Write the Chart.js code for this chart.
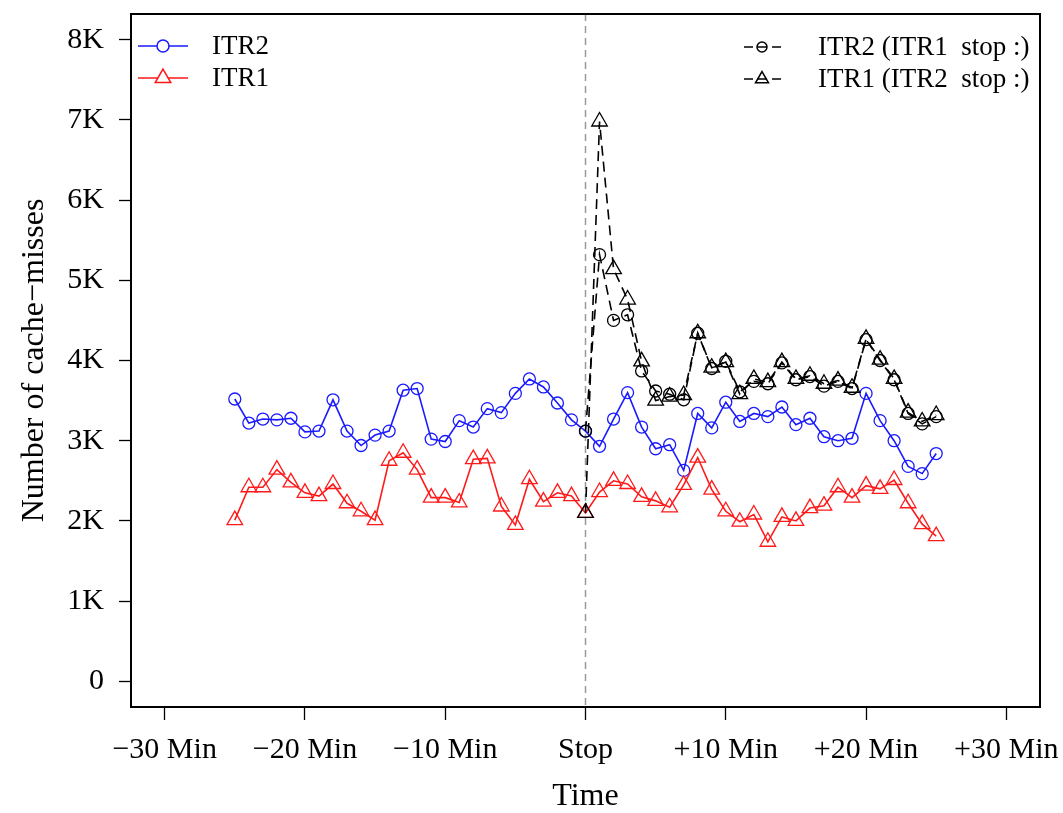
<!DOCTYPE html>
<html>
<head>
<meta charset="utf-8">
<script src="https://cdn.jsdelivr.net/npm/chart.js@4.4.1/dist/chart.umd.min.js"></script>
<style>
  body { margin: 0; background: #fff; }
</style>
</head>
<body>
<canvas id="misses" width="1063" height="813"></canvas>
<script>
// minutes relative to the stop
var minutes = [-25, -24, -23, -22, -21, -20, -19, -18, -17, -16, -15, -14, -13, -12, -11, -10, -9, -8, -7, -6, -5, -4, -3, -2, -1,
    0, 1, 2, 3, 4, 5, 6, 7, 8, 9, 10, 11, 12, 13, 14, 15, 16, 17, 18, 19, 20, 21, 22, 23, 24, 25];
var afterStop = [0, 1, 2, 3, 4, 5, 6, 7, 8, 9, 10, 11, 12, 13, 14, 15, 16, 17, 18, 19, 20, 21, 22, 23, 24, 25];

var itr2 = [3520, 3220, 3270, 3260, 3280, 3110, 3120, 3510, 3120, 2940, 3070, 3120, 3630, 3650, 3020, 2990, 3250, 3170, 3400, 3350, 3590, 3770, 3670, 3470, 3260,
    3120, 2930, 3270, 3600, 3170, 2900, 2950, 2630, 3340, 3160, 3480, 3240, 3340, 3300, 3420, 3200, 3280, 3050, 3000, 3030, 3590, 3250, 3000, 2680, 2590, 2840];
var itr1 = [2010, 2420, 2420, 2640, 2480, 2350, 2310, 2460, 2220, 2120, 2010, 2750, 2850, 2640, 2290, 2290, 2230, 2770, 2780, 2180, 1950, 2520, 2240, 2350, 2310,
    2100, 2360, 2500, 2460, 2300, 2250, 2170, 2450, 2790, 2390, 2120, 1990, 2080, 1740, 2050, 2000, 2160, 2190, 2420, 2290, 2440, 2400, 2510, 2220, 1960, 1810];
var itr2Alone = [3120, 5320, 4500, 4570, 3870, 3620, 3580, 3510, 4340, 3900, 3990, 3610, 3740, 3710, 3970, 3760, 3800, 3680, 3740, 3650, 4260, 4000, 3760, 3340, 3210, 3300];
var itr1Alone = [2100, 6980, 5140, 4760, 3990, 3500, 3550, 3570, 4340, 3910, 3980, 3580, 3770, 3730, 3980, 3770, 3810, 3710, 3750, 3660, 4270, 4010, 3770, 3350, 3240, 3320];

var xTicks = [-30, -20, -10, 0, 10, 20, 30];
var yTicks = [0, 1000, 2000, 3000, 4000, 5000, 6000, 7000, 8000];

function pairs(xs, ys) {
    return xs.map((x, i) => ({ x: x, y: ys[i] }));
}

var serif = "'Liberation Serif', 'Times New Roman', serif";
Chart.defaults.font.family = serif;
Chart.defaults.color = "#000";

// box, stop line and the two legends
var frame = {
    id: "frame",
    beforeDatasetsDraw(chart) {
        var ctx = chart.ctx, a = chart.chartArea;
        var x0 = chart.scales.x.getPixelForValue(0);
        ctx.save();
        ctx.strokeStyle = "#999";
        ctx.lineWidth = 1.5;
        ctx.setLineDash([7, 5]);
        ctx.beginPath();
        ctx.moveTo(x0, a.top);
        ctx.lineTo(x0, a.bottom);
        ctx.stroke();
        ctx.restore();
    },
    afterDraw(chart) {
        var ctx = chart.ctx, a = chart.chartArea;
        ctx.save();
        ctx.strokeStyle = "#000";
        ctx.lineWidth = 2;
        ctx.strokeRect(a.left, a.top, a.right - a.left, a.bottom - a.top);

        ctx.font = "27px " + serif;
        ctx.textBaseline = "middle";
        ctx.textAlign = "left";
        var ds = chart.data.datasets;

        // left legend
        [[ds[2], 46], [ds[3], 78]].forEach(([d, y]) => {
            ctx.strokeStyle = d.borderColor;
            ctx.lineWidth = 1.5;
            ctx.setLineDash([]);
            ctx.beginPath();
            ctx.moveTo(138, y);
            ctx.lineTo(188, y);
            ctx.stroke();
            ctx.fillStyle = "#fff";
            Chart.helpers.drawPoint(ctx, { pointStyle: d.pointStyle, radius: d.pointRadius, borderWidth: 1.5 }, 163, y);
            ctx.fillStyle = "#000";
            ctx.fillText(d.label, 212, y + 1);
        });

        // right legend
        [[ds[0], 47, 5], [ds[1], 79, 7.5]].forEach(([d, y, r]) => {
            ctx.strokeStyle = "#000";
            ctx.lineWidth = 1.5;
            ctx.setLineDash([]);
            ctx.beginPath();
            ctx.moveTo(744, y);
            ctx.lineTo(753, y);
            ctx.moveTo(772, y);
            ctx.lineTo(781, y);
            ctx.moveTo(757, y);
            ctx.lineTo(767, y);
            ctx.stroke();
            ctx.fillStyle = "rgba(0,0,0,0)";
            Chart.helpers.drawPoint(ctx, { pointStyle: d.pointStyle, radius: r, borderWidth: 1.3 }, 762, y);
            ctx.fillStyle = "#000";
            ctx.fillText(d.label, 818, y + 1);
        });
        ctx.restore();
    },
};

var ctx = document.getElementById("misses").getContext("2d");
var myChart = new Chart(ctx, {
    type: "line",
    data: {
        datasets: [
            {
                label: "ITR2 (ITR1  stop :)",
                data: pairs(afterStop, itr2Alone),
                borderColor: "#000",
                borderWidth: 1.6,
                borderDash: [10, 6],
                pointStyle: "circle",
                pointRadius: 6,
                pointBorderWidth: 1.3,
                pointBackgroundColor: "rgba(0,0,0,0)",
                order: 1,
            },
            {
                label: "ITR1 (ITR2  stop :)",
                data: pairs(afterStop, itr1Alone),
                borderColor: "#000",
                borderWidth: 1.6,
                borderDash: [10, 6],
                pointStyle: "triangle",
                pointRadius: 9,
                pointBorderWidth: 1.3,
                pointBackgroundColor: "rgba(0,0,0,0)",
                order: 0,
            },
            {
                label: "ITR2",
                data: pairs(minutes, itr2),
                borderColor: "#1a1aff",
                borderWidth: 1.6,
                pointStyle: "circle",
                pointRadius: 6,
                pointBorderWidth: 1.3,
                pointBackgroundColor: "rgba(0,0,0,0)",
                order: 3,
            },
            {
                label: "ITR1",
                data: pairs(minutes, itr1),
                borderColor: "#ff1a1a",
                borderWidth: 1.6,
                pointStyle: "triangle",
                pointRadius: 9,
                pointBorderWidth: 1.3,
                pointBackgroundColor: "rgba(0,0,0,0)",
                order: 2,
            },
        ],
    },
    options: {
        responsive: false,
        animation: false,
        devicePixelRatio: 1,
        layout: { padding: { left: 0, top: 14, right: 23, bottom: 0 } },
        elements: { line: { tension: 0 } },
        plugins: {
            legend: { display: false },
            tooltip: { enabled: false },
        },
        scales: {
            x: {
                type: "linear",
                min: -32.4,
                max: 32.4,
                afterBuildTicks: (s) => { s.ticks = xTicks.map((v) => ({ value: v })); },
                afterFit: (s) => { s.height = 106; s.paddingLeft = 0; s.paddingRight = 0; },
                ticks: {
                    padding: 12,
                    maxRotation: 0,
                    font: { size: 30 },
                    callback: (v) => (v === 0 ? "Stop" : (v > 0 ? "+" + v : "\u2212" + Math.abs(v)) + " Min"),
                },
                grid: { drawOnChartArea: false, tickLength: 13, tickColor: "#000", tickWidth: 1.3 },
                border: { display: false },
                title: { display: true, text: "Time", font: { size: 32, lineHeight: 1 }, padding: { top: 0, bottom: 0 } },
            },
            y: {
                min: -320,
                max: 8320,
                afterBuildTicks: (s) => { s.ticks = yTicks.map((v) => ({ value: v })); },
                afterFit: (s) => { s.width = 131; s.paddingTop = 0; s.paddingBottom = 0; },
                ticks: {
                    padding: 15,
                    font: { size: 30 },
                    callback: (v) => (v === 0 ? "0" : v / 1000 + "K"),
                },
                grid: { drawOnChartArea: false, tickLength: 12, tickColor: "#000", tickWidth: 1.3 },
                border: { display: false },
                title: { display: true, text: "Number of cache\u2212misses", font: { size: 32, lineHeight: 1 }, padding: { top: 19, bottom: 0 } },
            },
        },
    },
    plugins: [frame],
});
</script>
</body>
</html>
